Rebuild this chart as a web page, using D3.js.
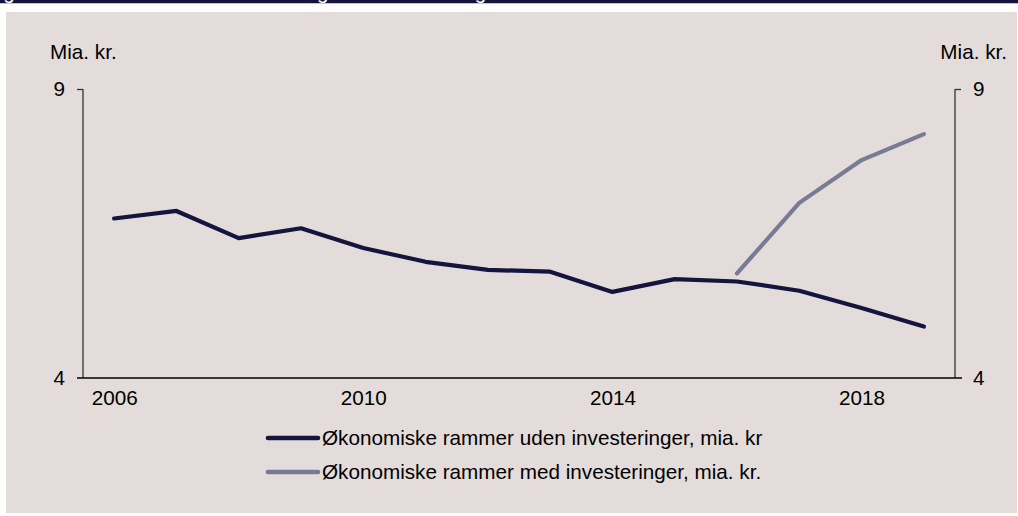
<!DOCTYPE html>
<html lang="da">
<head>
<meta charset="UTF-8">
<title>Økonomiske rammer</title>
<script src="https://d3js.org/d3.v7.min.js"></script>
<style>
  body { margin: 0; background: #fff; font-family: "Liberation Sans", Arial, sans-serif; }
  text { font-family: "Liberation Sans", Arial, sans-serif; fill: #000; }
</style>
</head>
<body>
<svg width="1018" height="516"></svg>
<script>
const years = [2006, 2007, 2008, 2009, 2010, 2011, 2012, 2013, 2014, 2015, 2016, 2017, 2018, 2019];
const udenInv = [6.76, 6.89, 6.42, 6.59, 6.25, 6.01, 5.87, 5.84, 5.49, 5.71, 5.67, 5.51, 5.21, 4.89];
const medInv = [null, null, null, null, null, null, null, null, null, null, 5.81, 7.03, 7.77, 8.22];
const xTicks = [2006, 2010, 2014, 2018];
const yTicks = [4, 9];
const seriesNames = ["Økonomiske rammer uden investeringer, mia. kr", "Økonomiske rammer med investeringer, mia. kr."];
const colors = ["#14143d", "#787b93"];
const fs = "20.7px";

const svg = d3.select("svg");

// header band (title cut by the page edge) and panel
svg.append("clipPath").attr("id", "hdr").append("rect")
  .attr("x", 0).attr("y", 0).attr("width", 1018).attr("height", 3.5);
const hdr = svg.append("g").attr("clip-path", "url(#hdr)");
hdr.append("rect").attr("x", 0).attr("y", 0).attr("width", 1018).attr("height", 3.5).attr("fill", "#13133d");
hdr.append("text").attr("x", -14).attr("y", -1).style("font-size", fs).style("fill", "#fff")
  .text("Figur 1. Økonomiske rammer med og uden investeringer");
svg.append("rect").attr("x", 6).attr("y", 12).attr("width", 1011).attr("height", 501).attr("fill", "#e3dcdb");

const plotL = 83, plotR = 955, plotT = 89, plotB = 378;

const x = d3.scalePoint().domain(years).range([plotL, plotR]).padding(0.5);
const y = d3.scaleLinear().domain([4, 9]).range([plotB, plotT]);

// left axis
const gl = svg.append("g").attr("transform", `translate(${plotL},0)`)
  .call(d3.axisLeft(y).tickValues(yTicks).tickFormat(d3.format("d")).tickSize(6).tickPadding(12));
gl.select(".domain").attr("d", `M0,${plotT}V${plotB}`);
// right axis
const gr = svg.append("g").attr("transform", `translate(${plotR},0)`)
  .call(d3.axisRight(y).tickValues(yTicks).tickFormat(d3.format("d")).tickSize(6).tickPadding(12));
gr.select(".domain").attr("d", `M0,${plotT}V${plotB}`);
[gl, gr].forEach(g => {
  g.selectAll("text").style("font-size", fs).attr("fill", "#000");
  g.selectAll("line, path").attr("stroke", "#333").attr("stroke-width", 1.3);
  g.selectAll(".tick").filter(d => d === 4).select("line").remove();
});

// x axis
const gx = svg.append("g").attr("transform", `translate(0,${plotB})`)
  .call(d3.axisBottom(x).tickValues(xTicks).tickSize(0).tickPadding(12));
gx.select(".domain").attr("d", `M${plotL - 6},0H${plotR + 7}`).attr("stroke", "#000").attr("stroke-width", 1.5);
gx.selectAll("text").style("font-size", fs).attr("fill", "#000");

// unit labels
svg.append("text").attr("x", 50).attr("y", 59).style("font-size", fs).text("Mia. kr.");
svg.append("text").attr("x", 1007).attr("y", 59).attr("text-anchor", "end").style("font-size", fs).text("Mia. kr.");

// lines
const line = d3.line()
  .defined(d => d[1] !== null)
  .x(d => x(d[0]))
  .y(d => y(d[1]));

[udenInv, medInv].forEach((vals, i) => {
  svg.append("path")
    .datum(years.map((yr, j) => [yr, vals[j]]))
    .attr("fill", "none")
    .attr("stroke", colors[i])
    .attr("stroke-width", 4.2)
    .attr("stroke-linecap", "round")
    .attr("stroke-linejoin", "round")
    .attr("d", line);
});

// legend
const legend = svg.append("g");
seriesNames.forEach((name, i) => {
  const ly = 438 + i * 34;
  legend.append("line").attr("x1", 268).attr("x2", 318).attr("y1", ly).attr("y2", ly)
    .attr("stroke", colors[i]).attr("stroke-width", 4.6).attr("stroke-linecap", "round");
  legend.append("text").attr("x", 322).attr("y", ly + 7).style("font-size", fs).text(name);
});
</script>
</body>
</html>
